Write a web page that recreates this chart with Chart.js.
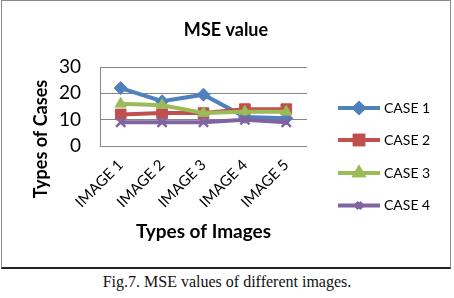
<!DOCTYPE html>
<html>
<head>
<meta charset="utf-8">
<script src="https://cdn.jsdelivr.net/npm/chart.js@4/dist/chart.umd.min.js"></script>
<style>
  html, body { margin: 0; padding: 0; background: #fff; }
  .frame {
    position: absolute; left: 1px; top: 0;
    width: 448px; height: 266px;
    border: 1px solid #8a8a8a;
    border-bottom: 2px solid #222;
  }
  canvas { display: block; }
  .caption {
    position: absolute; left: 0; top: 273px; width: 454px;
    text-align: center;
    font: 16px "Liberation Serif", "Times New Roman", serif;
    color: #111;
  }
</style>
</head>
<body>
<div class="frame"><canvas id="mse" width="448" height="266"></canvas></div>
<div class="caption">Fig.7. MSE values of different images.</div>

<script>
/* ── Data ── */
const IMAGES = ['IMAGE 1', 'IMAGE 2', 'IMAGE 3', 'IMAGE 4', 'IMAGE 5'];
const CASE_NAMES = ['CASE 1', 'CASE 2', 'CASE 3', 'CASE 4'];
const CASE_1 = [22, 17, 19.5, 11, 10.5];
const CASE_2 = [12, 12.5, 12.5, 14, 14];
const CASE_3 = [16, 15.5, 12.5, 13, 13];
const CASE_4 = [9, 9, 9, 10, 9];
const Y_TICKS = [0, 10, 20, 30];

const FONT = "Lato, 'Open Sans', sans-serif";
const STYLES = [
  { color: '#4f81bd', point: 'rectRot',  radius: 6.5, legendRadius: 4.5 },
  { color: '#c0504d', point: 'rect',     radius: 7.5, legendRadius: 6 },
  { color: '#9bbb59', point: 'triangle', radius: 6.5, legendRadius: 4.5 },
  { color: '#8064a2', point: 'crossRot', radius: 6.5, legendRadius: 4 },
];

/* ── Title, y title and legend drawn on top ── */
const decorations = {
  id: 'decorations',
  afterDraw(chart) {
    const ctx = chart.ctx;
    ctx.save();
    ctx.fillStyle = '#000';
    ctx.textBaseline = 'middle';

    ctx.font = `bold 18px ${FONT}`;
    ctx.textAlign = 'center';
    ctx.fillText('MSE value', 224, 29);

    ctx.save();
    ctx.translate(39, 138);
    ctx.rotate(-Math.PI / 2);
    ctx.font = `bold 18px ${FONT}`;
    ctx.fillText('Types of Cases', 0, 0);
    ctx.restore();

    const rows = [107, 139, 172, 204.5];
    CASE_NAMES.forEach((name, i) => {
      const s = STYLES[i];
      const y = rows[i];
      ctx.strokeStyle = s.color;
      ctx.lineWidth = 4;
      ctx.beginPath();
      ctx.moveTo(336, y);
      ctx.lineTo(378, y);
      ctx.stroke();
      Chart.helpers.drawPoint(ctx, {
        pointStyle: s.point, radius: s.legendRadius, rotation: 0, borderWidth: 2,
      }, 357, y);
      ctx.fillStyle = s.color;
      ctx.strokeStyle = s.color;
      ctx.fill();
      ctx.stroke();
      ctx.fillStyle = '#000';
      ctx.font = `14px ${FONT}`;
      ctx.textAlign = 'left';
      ctx.fillText(name, 382, y);
    });
    ctx.restore();
  }
};

/* ── Chart ── */
const series = [CASE_1, CASE_2, CASE_3, CASE_4];

new Chart(document.getElementById('mse'), {
  type: 'line',
  data: {
    labels: IMAGES,
    datasets: series.map((values, i) => ({
      label: CASE_NAMES[i],
      data: values,
      order: series.length - i,
      borderColor: STYLES[i].color,
      backgroundColor: STYLES[i].color,
      borderWidth: 4,
      pointStyle: STYLES[i].point,
      pointRadius: STYLES[i].radius,
      pointBorderWidth: STYLES[i].point === 'crossRot' ? 2.5 : 1,
      tension: 0,
    }))
  },
  options: {
    responsive: false,
    animation: false,
    layout: { padding: { left: 0, right: 143, top: 66, bottom: 0 } },
    plugins: {
      legend: { display: false },
      title: { display: false },
      tooltip: { enabled: false }
    },
    scales: {
      x: {
        offset: true,
        grid: { display: false },
        border: { display: false },
        ticks: {
          color: '#000',
          font: { family: FONT, size: 15 },
          minRotation: 45,
          maxRotation: 45,
          autoSkip: false,
          padding: 2
        },
        title: {
          display: true,
          text: 'Types of Images',
          color: '#000',
          font: { family: FONT, size: 19, weight: 'bold' },
          padding: { top: 0, bottom: 24 }
        },
        afterFit: s => { s.height = 121; }
      },
      y: {
        min: 0,
        max: 30,
        afterBuildTicks: s => { s.ticks = Y_TICKS.map(v => ({ value: v })); },
        grid: { color: '#868686', lineWidth: 1, drawTicks: false },
        border: { display: true, color: '#868686' },
        ticks: {
          color: '#000',
          font: { family: FONT, size: 19 },
          padding: 19
        },
        afterFit: s => { s.width = 98; }
      }
    }
  },
  plugins: [decorations]
});
</script>
</body>
</html>
